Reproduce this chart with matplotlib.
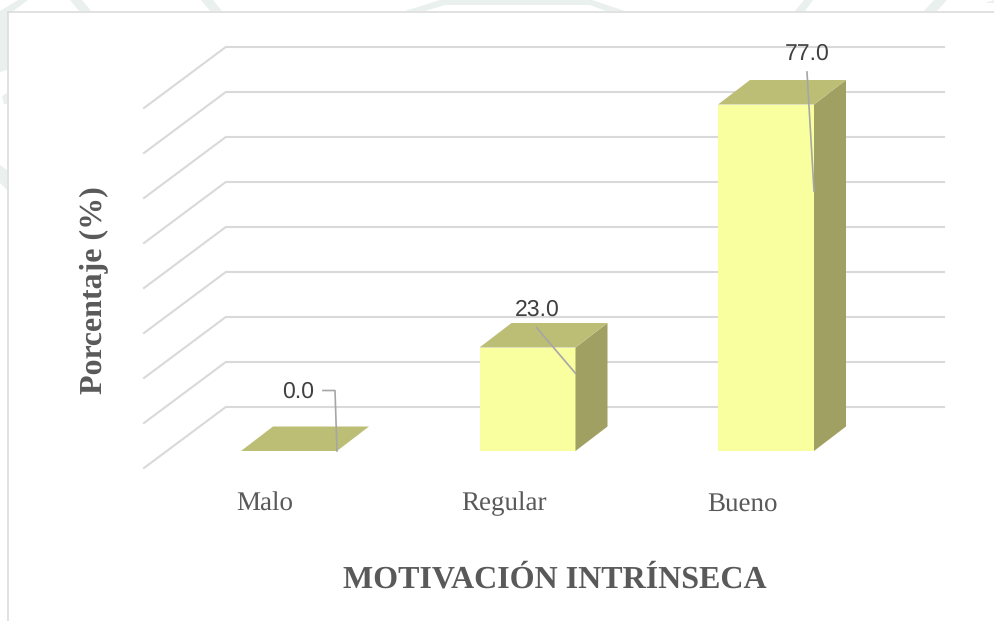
import numpy as np
import matplotlib
matplotlib.use("Agg")
import matplotlib.pyplot as plt
from matplotlib.patches import Polygon

plt.rcParams["text.hinting"] = "no_hinting"
plt.rcParams["text.hinting_factor"] = 1

categories = ["Malo", "Regular", "Bueno"]
values = [0.0, 23.0, 77.0]
grid_values = [0, 10, 20, 30, 40, 50, 60, 70, 80]

W, H = 994, 621
fig = plt.figure(figsize=(W / 100, H / 100), dpi=100, facecolor="white")

# axes fills the figure, limits chosen so value 0 sits on the bars' front base
ppx = 238.5  # pixels per category
ppy = 4.5    # pixels per percent
ax = fig.add_axes([0, 0, 1, 1])
ax.set_xlim(-289 / ppx, (W - 289) / ppx)
ax.set_ylim(-(H - 451) / ppy, 451 / ppy)
ax.axis("off")

# oblique depth of a bar, in data units
dx = 32 / ppx
dy = 24.5 / ppy
bar_w = 96 / ppx

GRID = "#D9D9D9"
TEXT = "#595959"
serif = "Liberation Serif"
sans = "Liberation Sans"


# faint watermark showing around the chart frame (figure pixels, y down)
def stripe(pts):
    pts = [(x, H - y) for x, y in pts]
    fig.add_artist(Polygon(pts, closed=True, fc="#E9F0ED", ec="none", transform=None, zorder=-5))


stripe([(0, 21), (28, 0), (18, 0), (0, 11)])
stripe([(70, 0), (82, 0), (91, 11), (79, 11)])
stripe([(201, 0), (213, 0), (222, 11), (210, 11)])
stripe([(405, 11), (440, 0), (592, 0), (625, 11), (606, 11), (590, 5), (445, 5), (425, 11)])
stripe([(795, 11), (804, 0), (813, 0), (805, 11)])
stripe([(924, 11), (934, 0), (947, 0), (937, 11)])
stripe([(985, 3), (994, 0), (994, 3)])
stripe([(0, 14), (7, 14), (7, 70), (0, 72)])
stripe([(2, 96), (7, 93), (7, 104), (4, 104)])
stripe([(0, 165), (7, 170), (7, 190), (0, 183)])

# chart frame, white inside; only top and left edges are in view
fig.add_artist(Polygon([(7.5, -10), (7.5, H - 11.5), (W + 10, H - 11.5), (W + 10, -10)], closed=True,
                       fc="white", ec=GRID, lw=1.1, transform=None, zorder=-4))

# gridlines: back wall plus the slanted floor/side part
back_x = -0.265
end_x = (944 - 289) / ppx
side_x = -(289 - 144) / ppx
for v in grid_values:
    yb = v + 44 / ppy
    yf = yb - 61 / ppy
    ax.plot([side_x, back_x, end_x], [yf, yb, yb], color=GRID, lw=1.5, zorder=1,
            solid_joinstyle="miter")

# bars
x = np.arange(len(categories))
for xi, v in zip(x, values):
    left = xi - bar_w / 2
    right = xi + bar_w / 2
    if v > 0:
        ax.bar(xi, v, width=bar_w, color="#F9FE9F", edgecolor="none", zorder=3)
        ax.add_patch(Polygon([(right, 0), (right + dx, dy), (right + dx, v + dy), (right, v)],
                             closed=True, fc="#A1A063", ec="none", zorder=3))
    ax.add_patch(Polygon([(left, v), (left + dx, v + dy), (right + dx, v + dy), (right, v)],
                         closed=True, fc="#BDBE76", ec="none", zorder=3))

# data labels with leader lines
LEAD = "#A6A6A6"
label_pos = [(9 / ppx, 59 / ppy), (9.5 / ppx, 38 / ppy), (41 / ppx, 51 / ppy)]
lead_start = [(46 / ppx, 60.5 / ppy), (9 / ppx, 20 / ppy), (41 / ppx, 32.5 / ppy)]
for xi, v, lp, ls in zip(x, values, label_pos, lead_start):
    right = xi + bar_w / 2
    ax.text(xi + lp[0], v + lp[1], f"{v:.1f}", ha="center", va="center", family=sans,
            fontsize=16.3, color="#404040", zorder=5)
    x0, y0 = xi + ls[0], v + ls[1]
    if v == 0:
        ax.plot([xi + 34 / ppx, x0, right], [y0, y0, 0.75 * v], color=LEAD, lw=1.2, zorder=5)
    else:
        ax.plot([x0, right], [y0, 0.75 * v], color=LEAD, lw=1.2, zorder=5)

# category labels and axis titles
for xi, c in zip(x, categories):
    ax.text(xi - 24 / ppx, -(510.5 - 451) / ppy, c, ha="center", va="baseline", family=serif,
            fontsize=19.5, color=TEXT)
ax.text((554.5 - 289) / ppx, -(588 - 451) / ppy, "MOTIVACIÓN INTRÍNSECA", ha="center", va="baseline",
        family=serif, fontsize=22.7, fontweight="bold", color=TEXT)
ax.text((94 - 289) / ppx, (451 - 290) / ppy, "Porcentaje (%)", ha="center", va="center", rotation=90,
        family=serif, fontsize=22.8, fontweight="bold", color=TEXT)

fig.savefig("out.png", dpi=100)
